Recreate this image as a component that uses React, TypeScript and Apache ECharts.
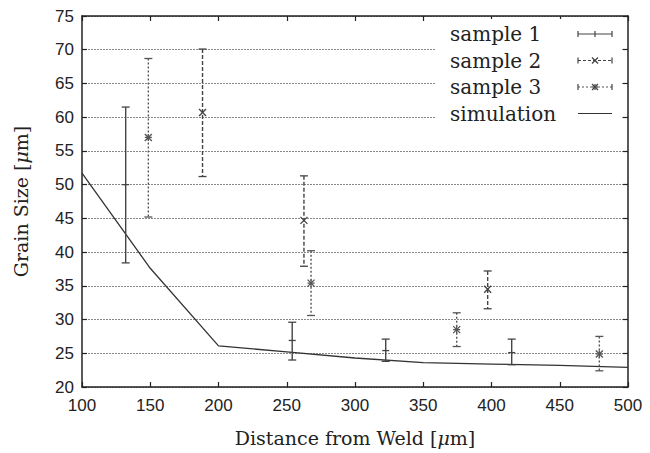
import React, { useEffect, useRef } from "react";
import * as echarts from "echarts";

// [x, mean, low, high]
const sample1: number[][] = [
  [132, 50.0, 38.4, 61.5],
  [254, 26.9, 24.0, 29.6],
  [322.5, 25.4, 23.8, 27.1],
  [414.8, 25.1, 23.3, 27.1],
];
const sample2: number[][] = [
  [188.3, 60.7, 51.2, 70.1],
  [262.6, 44.7, 37.9, 51.3],
  [397.2, 34.5, 31.6, 37.2],
];
const sample3: number[][] = [
  [148.6, 57.0, 45.2, 68.7],
  [267.8, 35.4, 30.6, 40.2],
  [374.5, 28.5, 26.0, 31.0],
  [479.0, 24.9, 22.4, 27.5],
];
const simX = [100, 150, 200, 250, 300, 350, 400, 450, 500];
const simY = [51.7, 37.6, 26.1, 25.2, 24.3, 23.6, 23.4, 23.2, 22.9];

const legendNames = ["sample 1", "sample 2", "sample 3", "simulation"];

const SERIF = "'DejaVu Serif', serif";
const SANS = "'Liberation Sans', Arial, sans-serif";

type Marker = "plus" | "cross" | "star";

function errorRender(color: string, dash: number[] | null, marker: Marker) {
  return (params: any, api: any) => {
    const x = api.value(0);
    const c = api.value(1);
    const lo = api.value(2);
    const hi = api.value(3);
    const pc = api.coord([x, c]);
    const pl = api.coord([x, lo]);
    const ph = api.coord([x, hi]);
    const lw = 1.4;
    const style: any = { stroke: color, lineWidth: lw, fill: null };
    if (dash) style.lineDash = dash;
    const solid = { stroke: color, lineWidth: 1.3, fill: null };
    const cap = 4;
    const m = 3.5;
    const children: any[] = [
      { type: "line", shape: { x1: pc[0], y1: ph[1], x2: pc[0], y2: pl[1] }, style },
      { type: "line", shape: { x1: pc[0] - cap, y1: ph[1], x2: pc[0] + cap, y2: ph[1] }, style: solid },
      { type: "line", shape: { x1: pc[0] - cap, y1: pl[1], x2: pc[0] + cap, y2: pl[1] }, style: solid },
    ];
    if (marker === "plus" || marker === "star") {
      children.push({ type: "line", shape: { x1: pc[0] - m, y1: pc[1], x2: pc[0] + m, y2: pc[1] }, style: solid });
    }
    if (marker === "cross" || marker === "star") {
      children.push({ type: "line", shape: { x1: pc[0] - m, y1: pc[1] - m, x2: pc[0] + m, y2: pc[1] + m }, style: solid });
      children.push({ type: "line", shape: { x1: pc[0] - m, y1: pc[1] + m, x2: pc[0] + m, y2: pc[1] - m }, style: solid });
    }
    if (marker === "star") {
      children.push({ type: "line", shape: { x1: pc[0], y1: pc[1] - m, x2: pc[0], y2: pc[1] + m }, style: solid });
    }
    return { type: "group", children };
  };
}

function legendGraphic() {
  const els: any[] = [];
  const textX = 450;
  const y0 = 34;
  const dy = 26.5;
  const x1 = 578;
  const x2 = 612;
  els.push({
    type: "rect",
    shape: { x: 436, y: 19, width: 186, height: 100 },
    style: { fill: "#fff" },
    z: 90,
  });
  const styles: any[] = [
    { stroke: "#444", lineWidth: 1.2 },
    { stroke: "#444", lineWidth: 1.2, lineDash: [3, 2] },
    { stroke: "#555", lineWidth: 1.2, lineDash: [2, 2] },
    { stroke: "#333", lineWidth: 1.2 },
  ];
  legendNames.forEach((n, i) => {
    const y = y0 + i * dy;
    els.push({
      type: "text",
      x: textX,
      y,
      z: 100,
      style: { text: n, fill: "#222", font: `20px ${SERIF}`, textVerticalAlign: "middle", verticalAlign: "middle" },
    });
    els.push({ type: "line", z: 100, shape: { x1, y1: y, x2, y2: y }, style: styles[i] });
    if (i < 3) {
      els.push({ type: "line", z: 100, shape: { x1, y1: y - 3, x2: x1, y2: y + 3 }, style: { stroke: "#444", lineWidth: 1.2 } });
      els.push({ type: "line", z: 100, shape: { x1: x2, y1: y - 3, x2: x2, y2: y + 3 }, style: { stroke: "#444", lineWidth: 1.2 } });
      const cx = (x1 + x2) / 2;
      const m = 3;
      if (i === 0) {
        els.push({ type: "line", z: 100, shape: { x1: cx, y1: y - m, x2: cx, y2: y + m }, style: { stroke: "#444", lineWidth: 1.2 } });
      } else {
        els.push({ type: "line", z: 100, shape: { x1: cx - m, y1: y - m, x2: cx + m, y2: y + m }, style: { stroke: "#444", lineWidth: 1.2 } });
        els.push({ type: "line", z: 100, shape: { x1: cx - m, y1: y + m, x2: cx + m, y2: y - m }, style: { stroke: "#444", lineWidth: 1.2 } });
        if (i === 2) {
          els.push({ type: "line", z: 100, shape: { x1: cx, y1: y - m, x2: cx, y2: y + m }, style: { stroke: "#444", lineWidth: 1.2 } });
          els.push({ type: "line", z: 100, shape: { x1: cx - m, y1: y, x2: cx + m, y2: y }, style: { stroke: "#444", lineWidth: 1.2 } });
        }
      }
    }
  });
  return els;
}

export default function App() {
  const ref = useRef<HTMLDivElement>(null);
  useEffect(() => {
    if (!ref.current) return;
    const chart = echarts.init(ref.current, undefined, { renderer: "svg" });
    const axisLine = { show: true, lineStyle: { color: "#222", width: 1.5 } };
    const tick = { show: true, inside: true, length: 5, lineStyle: { color: "#222", width: 1.2 } };
    const labelStyle = { color: "#222", fontSize: 17, fontFamily: SANS };
    const titleStyle = {
      fontFamily: SERIF,
      fontSize: 19,
      color: "#222",
      rich: { i: { fontFamily: SERIF, fontStyle: "italic", fontSize: 19, color: "#222" } },
    };
    chart.setOption({
      animation: false,
      backgroundColor: "#fff",
      grid: { left: 82, right: 22, top: 16, bottom: 66, containLabel: false },
      xAxis: [
        {
          type: "value",
          min: 100,
          max: 500,
          interval: 50,
          position: "bottom",
          axisLine,
          axisTick: tick,
          axisLabel: { ...labelStyle, margin: 10 },
          splitLine: { show: false },
          name: "Distance from Weld [{i|μ}m]",
          nameLocation: "middle",
          nameGap: 41,
          nameTextStyle: titleStyle,
        },
        {
          type: "value",
          min: 100,
          max: 500,
          interval: 50,
          position: "top",
          axisLine,
          axisTick: tick,
          axisLabel: { show: false },
          splitLine: { show: false },
        },
      ],
      yAxis: [
        {
          type: "value",
          min: 20,
          max: 75,
          interval: 5,
          position: "left",
          axisLine,
          axisTick: tick,
          axisLabel: { ...labelStyle, margin: 8 },
          splitLine: { show: true, lineStyle: { color: "#888", width: 1, type: [2, 1] } },
          name: "Grain Size [{i|μ}m]",
          nameLocation: "middle",
          nameGap: 52,
          nameTextStyle: titleStyle,
        },
        {
          type: "value",
          min: 20,
          max: 75,
          interval: 5,
          position: "right",
          axisLine,
          axisTick: tick,
          axisLabel: { show: false },
          splitLine: { show: false },
        },
      ],
      graphic: legendGraphic(),
      series: [
        {
          name: "simulation",
          type: "line",
          data: simX.map((x, i) => [x, simY[i]]),
          showSymbol: false,
          symbol: "none",
          lineStyle: { color: "#333", width: 1.3 },
          z: 3,
        },
        {
          name: "sample 1",
          type: "custom",
          data: sample1,
          encode: { x: 0, y: [1, 2, 3] },
          renderItem: errorRender("#444", null, "plus"),
          z: 4,
        },
        {
          name: "sample 2",
          type: "custom",
          data: sample2,
          encode: { x: 0, y: [1, 2, 3] },
          renderItem: errorRender("#444", [4, 2], "cross"),
          z: 4,
        },
        {
          name: "sample 3",
          type: "custom",
          data: sample3,
          encode: { x: 0, y: [1, 2, 3] },
          renderItem: errorRender("#555", [2, 2], "star"),
          z: 4,
        },
      ],
    });
    return () => chart.dispose();
  }, []);
  return <div ref={ref} style={{ width: 650, height: 453, position: "absolute", left: 0, top: 0 }} />;
}
